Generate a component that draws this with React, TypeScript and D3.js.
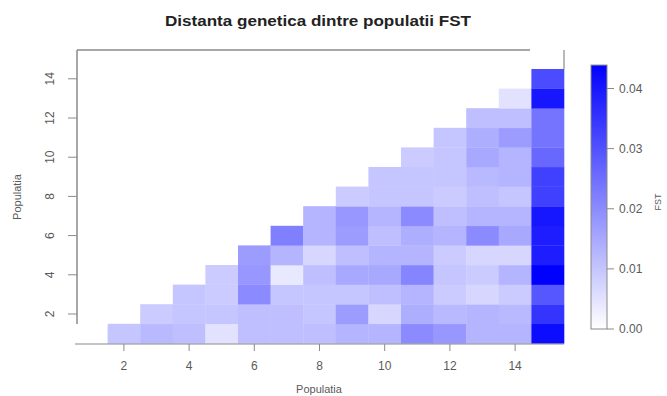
import * as d3 from 'd3';

// populations on both axes
const xTicks = [2, 4, 6, 8, 10, 12, 14];
const yTicks = [2, 4, 6, 8, 10, 12, 14];
const legendTicks = [0, 0.01, 0.02, 0.03, 0.04];

// FST per column population (2..15), values for rows 1..col-1
const fst2 = [0.010];
const fst3 = [0.012, 0.009];
const fst4 = [0.011, 0.010, 0.010];
const fst5 = [0.005, 0.010, 0.009, 0.009];
const fst6 = [0.011, 0.011, 0.020, 0.018, 0.017];
const fst7 = [0.011, 0.011, 0.010, 0.004, 0.013, 0.022];
const fst8 = [0.011, 0.010, 0.010, 0.011, 0.007, 0.013, 0.013];
const fst9 = [0.013, 0.017, 0.010, 0.015, 0.011, 0.017, 0.018, 0.009];
const fst10 = [0.013, 0.007, 0.011, 0.015, 0.013, 0.011, 0.013, 0.010, 0.010];
const fst11 = [0.020, 0.014, 0.013, 0.021, 0.013, 0.014, 0.020, 0.010, 0.010, 0.009];
const fst12 = [0.018, 0.012, 0.009, 0.010, 0.009, 0.013, 0.011, 0.009, 0.010, 0.010, 0.010];
const fst13 = [0.013, 0.013, 0.007, 0.009, 0.007, 0.020, 0.013, 0.011, 0.012, 0.015, 0.014, 0.011];
const fst14 = [0.013, 0.012, 0.009, 0.013, 0.007, 0.015, 0.013, 0.010, 0.013, 0.013, 0.017, 0.011, 0.005];
const fst15 = [0.042, 0.035, 0.029, 0.044, 0.039, 0.039, 0.040, 0.033, 0.033, 0.026, 0.024, 0.024, 0.040, 0.031];

const columns = [fst2, fst3, fst4, fst5, fst6, fst7, fst8, fst9, fst10, fst11, fst12, fst13, fst14, fst15];

const font = '"Liberation Sans", Arial, sans-serif';
const axisGrey = '#8a8a8a';
const textGrey = '#5a5a5a';

export default function App() {
  const cells = columns.flatMap((vals, ci) =>
    vals.map((v, ri) => ({ x: ci + 2, y: ri + 1, v }))
  );

  const x = d3.scaleLinear().domain([0.5, 15.5]).range([75, 564]);
  const y = d3.scaleLinear().domain([0.5, 15.5]).range([343.4, 49.4]);
  const color = d3.scaleLinear<string>().domain([0, 0.044]).range(['#ffffff', '#0000ff']).interpolate(d3.interpolateRgb);
  const cw = x(1.5) - x(0.5);
  const ch = y(0.5) - y(1.5);

  // colour key
  const key = d3.scaleLinear().domain([0, 0.04]).range([329, 88.5]);
  const keyTop = key(0.0439);
  const keyBottom = key(0);

  return (
    <svg width={667} height={396} style={{ position: 'fixed', left: 0, top: 0, background: '#fff' }} fontFamily={font}>
      <defs>
        <linearGradient id="fst-key" x1="0" x2="0" y1="1" y2="0">
          <stop offset="0%" stopColor={color(0)} />
          <stop offset="100%" stopColor={color(0.0439)} />
        </linearGradient>
      </defs>

      <text x={318} y={26} textAnchor="middle" fontSize={14} fontWeight="bold" fill="#222"
        textLength={306} lengthAdjust="spacingAndGlyphs">
        Distanta genetica dintre populatii FST
      </text>

      {/* cells */}
      {cells.map((d) => (
        <rect
          key={`${d.x}-${d.y}`}
          x={x(d.x - 0.5)}
          y={y(d.y + 0.5)}
          width={cw + 0.3}
          height={ch + 0.3}
          fill={color(d.v)}
        />
      ))}

      {/* frame pieces */}
      <line x1={77} x2={530} y1={50} y2={50} stroke={axisGrey} strokeWidth={1.5} />
      <line x1={77} x2={77} y1={50} y2={324} stroke={axisGrey} strokeWidth={1.5} />
      <line x1={75} x2={564} y1={344} y2={344} stroke={axisGrey} strokeWidth={1.2} />
      <line x1={564} x2={564} y1={50} y2={69} stroke={axisGrey} strokeWidth={1.2} />

      {/* x axis */}
      {xTicks.map((t) => (
        <g key={`x${t}`}>
          <line x1={x(t)} x2={x(t)} y1={344} y2={351} stroke={axisGrey} />
          <text x={x(t)} y={370} textAnchor="middle" fontSize={12} fill={textGrey}>{t}</text>
        </g>
      ))}
      <text x={319} y={393} textAnchor="middle" fontSize={11} fill={textGrey}>Populatia</text>

      {/* y axis */}
      {yTicks.map((t) => (
        <g key={`y${t}`}>
          <line x1={68} x2={77} y1={y(t)} y2={y(t)} stroke={axisGrey} />
          <text
            transform={`translate(54,${y(t)}) rotate(-90)`}
            textAnchor="middle"
            fontSize={12}
            fill={textGrey}
          >
            {t}
          </text>
        </g>
      ))}
      <text transform={`translate(21,197) rotate(-90)`} textAnchor="middle" fontSize={11} fill={textGrey}>
        Populatia
      </text>

      {/* colour key */}
      <rect x={591} y={keyTop} width={16} height={keyBottom - keyTop} fill="url(#fst-key)" stroke={axisGrey} />
      {legendTicks.map((t) => (
        <g key={`k${t}`}>
          <line x1={607} x2={614} y1={key(t)} y2={key(t)} stroke={axisGrey} />
          <text x={619} y={key(t) + 4} fontSize={12} fill={textGrey}>{t.toFixed(2)}</text>
        </g>
      ))}
      <text transform={`translate(661,202) rotate(-90)`} textAnchor="middle" fontSize={9} fill={textGrey}>
        FST
      </text>
    </svg>
  );
}
